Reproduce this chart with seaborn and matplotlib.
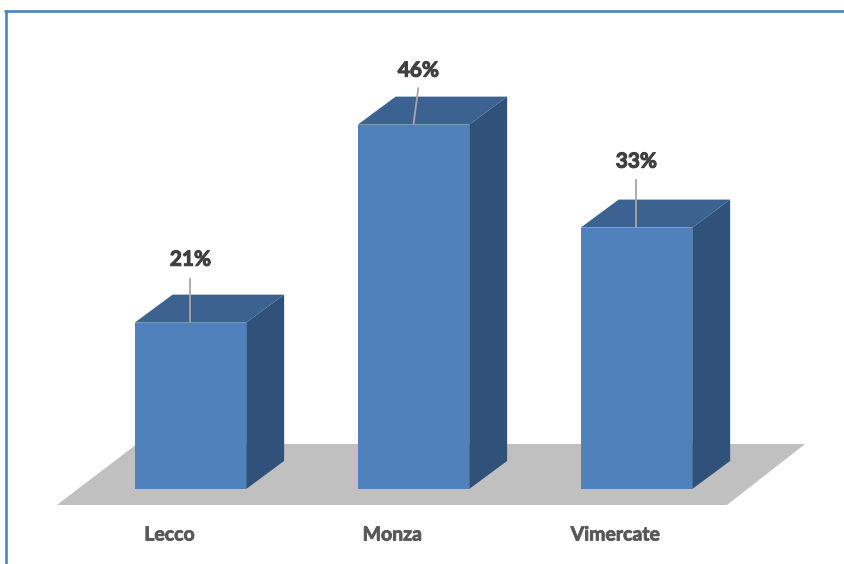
import matplotlib
matplotlib.use("Agg")
import matplotlib.pyplot as plt
import matplotlib.patheffects as pe
from matplotlib.patches import Polygon
from matplotlib.lines import Line2D
import pandas as pd
import seaborn as sns

# Data
cities = ["Lecco", "Monza", "Vimercate"]
shares = [21, 46, 33]
share_labels = ["21%", "46%", "33%"]

# Colours
FRONT = "#4F81BD"
TOP = "#3B6290"
SIDE = "#30527A"
FLOOR = "#C0C0C0"
BORDER = "#4F81BD"

sns.set_theme(style="white")
plt.rcParams["font.family"] = ["Lato", "DejaVu Sans"]

W, H, DPI = 845, 564, 100
fig = plt.figure(figsize=(W / DPI, H / DPI), dpi=DPI)
ax = fig.add_axes([0, 0, 1, 1])

df = pd.DataFrame({"city": cities, "share": shares})
sns.barplot(data=df, x="city", y="share", color=FRONT, saturation=1,
            width=0.5, errorbar=None, ax=ax, zorder=2, linewidth=0)

# axis scale: one category step = 223 px, one percent = 7.92 px
ax.set_xlim(-0.854, 2.935)
ax.set_ylim(-9.47, 61.74)
ax.set_axis_off()

# depth of the 3-D extrusion, in data units
DX, DY = 0.170, 3.54

bars = list(ax.patches)

# grey floor plane
floor = Polygon([(-0.599, -2.02), (2.406, -2.02), (2.756, 5.68), (-0.240, 5.68)],
                closed=True, facecolor=FLOOR, edgecolor="none", zorder=1)
ax.add_patch(floor)

for p in bars:
    x0 = p.get_x()
    x1 = x0 + p.get_width()
    h = p.get_height()
    top = Polygon([(x0, h), (x1, h), (x1 + DX, h + DY), (x0 + DX, h + DY)],
                  closed=True, facecolor=TOP, edgecolor="none", zorder=2)
    side = Polygon([(x1, 0), (x1 + DX, DY), (x1 + DX, h + DY), (x1, h)],
                   closed=True, facecolor=SIDE, edgecolor="none", zorder=2)
    ax.add_patch(top)
    ax.add_patch(side)

# value labels with leader lines
label_rise = [7.95, 6.82, 8.33]
leader_rise = [5.7, 4.7, 6.1]
leader_lean = [0.0, 0.022, 0.0]
for i, (v, txt) in enumerate(zip(shares, share_labels)):
    lx = [i, i + leader_lean[i]]
    ly = [v, v + leader_rise[i]]
    ax.plot(lx, ly, color="#A6A6A6", lw=1.3, zorder=3, solid_capstyle="butt")
    ax.text(i + leader_lean[i], v + label_rise[i], txt, ha="center", va="center",
            fontsize=15, fontweight="bold", color="#404040", zorder=4,
            path_effects=[pe.withStroke(linewidth=0.8, foreground="#404040")])

# category labels under the floor
for i, name in enumerate(cities):
    ax.text(i - 0.094, -5.81, name, ha="center", va="center",
            fontsize=14, fontweight="bold", color="#595959",
            path_effects=[pe.withStroke(linewidth=0.6, foreground="#595959")])

# frame lines along the top and left edges
fig.add_artist(Line2D([5 / W, 1.0], [1 - 11 / H, 1 - 11 / H],
                      transform=fig.transFigure, color=BORDER, lw=1.9))
fig.add_artist(Line2D([6 / W, 6 / W], [0.0, 1 - 11 / H],
                      transform=fig.transFigure, color=BORDER, lw=1.9))

fig.savefig("out.png", dpi=DPI, facecolor="white")
